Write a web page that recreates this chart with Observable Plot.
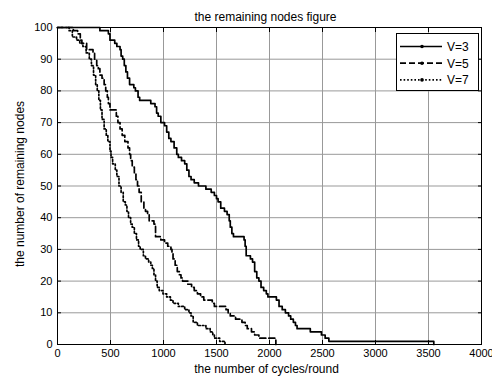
<!DOCTYPE html>
<html>
<head>
<meta charset="utf-8">
<script src="https://cdn.jsdelivr.net/npm/d3@7"></script>
<script src="https://cdn.jsdelivr.net/npm/@observablehq/plot@0.6"></script>
<style>
  html, body { margin: 0; padding: 0; background: #fff; }
  #chart { position: relative; width: 492px; height: 381px; font-family: "Liberation Sans", Arial, sans-serif; }
  #legend { position: absolute; left: 0; top: 0; }
</style>
</head>
<body>
<div id="chart"></div>
<script>
// Remaining alive nodes versus simulation round, for three values of V.
// Each series is a list of [round, nodes] change points, drawn as a staircase.
const v3 = [[0,100],[400,99],[480,98],[495,96],[540,95],[560,94],[590,93],[600,91],[615,90],[630,88],[645,86],[660,84],[680,82],[720,81],[735,80],[760,78],[775,77],[880,76],[920,75],[935,73],[950,72],[975,70],[1010,69],[1030,67],[1050,65],[1070,64],[1100,62],[1125,60],[1140,59],[1170,58],[1200,57],[1220,55],[1240,53],[1260,52],[1290,51],[1330,50],[1400,49],[1450,48],[1480,47],[1500,46],[1515,45],[1540,43],[1575,42],[1600,41],[1620,39],[1630,37],[1645,35],[1660,34],[1760,33],[1770,31],[1780,28],[1820,27],[1840,26],[1860,23],[1880,21],[1900,20],[1920,18],[1945,17],[1970,16],[1985,15],[2065,14],[2090,12],[2120,11],[2150,10],[2180,9],[2200,8],[2225,7],[2245,6],[2260,5],[2385,4],[2490,3],[2525,2],[2560,1],[3550,0]];
const v5 = [[0,100],[150,99],[190,98],[215,96],[230,95],[275,93],[335,92],[350,90],[370,88],[385,87],[400,85],[420,84],[440,82],[455,80],[470,78],[480,76],[495,74],[555,72],[570,70],[590,68],[610,66],[635,64],[665,62],[680,60],[690,58],[705,56],[725,54],[740,52],[755,50],[770,48],[790,45],[815,43],[830,42],[850,41],[865,39],[910,38],[925,34],[975,33],[1010,32],[1040,31],[1070,30],[1080,29],[1090,27],[1110,25],[1130,23],[1150,22],[1165,21],[1180,20],[1230,19],[1265,18],[1290,17],[1320,16],[1350,15],[1380,14],[1460,13],[1480,12],[1590,11],[1610,10],[1630,9],[1680,8],[1740,7],[1770,6],[1790,5],[1830,4],[1860,3],[1900,2],[2060,0]];
const v7 = [[0,100],[110,99],[140,97],[180,96],[210,95],[240,94],[270,92],[300,90],[320,88],[340,85],[360,82],[375,80],[390,77],[405,74],[420,71],[440,68],[460,66],[475,64],[495,61],[505,59],[520,57],[545,55],[560,53],[580,50],[600,48],[620,45],[640,44],[655,42],[670,40],[690,38],[705,37],[725,35],[745,33],[765,31],[780,30],[810,28],[830,27],[860,26],[880,25],[895,24],[910,22],[925,20],[940,18],[960,17],[995,16],[1030,15],[1065,14],[1090,13],[1140,12],[1200,11],[1240,10],[1260,9],[1280,7],[1320,6],[1400,5],[1440,4],[1465,3],[1480,2],[1530,1],[1580,0]];

const seriesNames = ["V=3", "V=5", "V=7"];
const seriesDash = [null, "6,3", "1.6,2"];
const xTicks = [0, 500, 1000, 1500, 2000, 2500, 3000, 3500, 4000];
const yTicks = [0, 10, 20, 30, 40, 50, 60, 70, 80, 90, 100];

const W = 492, H = 381;
const mL = 57, mR = 11, mT = 27, mB = 37;

const lineOpts = (dash) => ({
  x: d => d[0], y: d => d[1], curve: "step-after",
  stroke: "black", strokeWidth: 1.7, strokeDasharray: dash
});

const plain = d => String(d);

const plot = Plot.plot({
  width: W, height: H,
  marginLeft: mL, marginRight: mR, marginTop: mT, marginBottom: mB,
  style: { fontFamily: "Liberation Sans, Arial, sans-serif", fontSize: "11px", background: "white", color: "black", overflow: "visible" },
  x: { domain: [0, 4000] },
  y: { domain: [0, 100] },
  marks: [
    Plot.gridX(xTicks, { stroke: "#999", strokeOpacity: 1, strokeWidth: 1 }),
    Plot.gridY(yTicks, { stroke: "#999", strokeOpacity: 1, strokeWidth: 1 }),
    Plot.axisX(xTicks, { anchor: "bottom", tickSize: -4, tickPadding: 9, tickFormat: plain, fontSize: 11, label: null }),
    Plot.axisX(xTicks, { anchor: "top", tickSize: -4, tickFormat: () => "", label: null }),
    Plot.axisY(yTicks, { anchor: "left", tickSize: -4, tickPadding: 9, tickFormat: plain, fontSize: 11, label: null }),
    Plot.axisY(yTicks, { anchor: "right", tickSize: -4, tickFormat: () => "", label: null }),
    Plot.line(v7, lineOpts(seriesDash[2])),
    Plot.line(v5, lineOpts(seriesDash[1])),
    Plot.line(v3, lineOpts(seriesDash[0])),
    Plot.frame({ stroke: "black", strokeWidth: 1 }),
    Plot.text(["the remaining nodes figure"], { frameAnchor: "top", dx: -4, dy: -15, fontSize: 12 }),
    Plot.text(["the number of cycles/round"], { frameAnchor: "bottom", dx: -3, dy: 28, fontSize: 12 }),
    Plot.text(["the number of remaining nodes"], { frameAnchor: "left", textAnchor: "middle", dx: -37, dy: -2, rotate: -90, fontSize: 12 })
  ]
});

const chart = document.getElementById("chart");
chart.appendChild(plot);

// Legend box in the upper-right corner of the plot area
const xScale = plot.scale("x"), yScale = plot.scale("y");
const frameRight = xScale.apply(4000), frameTop = yScale.apply(100);
const boxW = 82, boxH = 57, boxX = frameRight - boxW - 3, boxY = frameTop + 6;
const legend = d3.select(chart).append("svg")
  .attr("id", "legend").attr("width", W).attr("height", H)
  .style("pointer-events", "none");
legend.append("rect")
  .attr("x", boxX + 0.5).attr("y", boxY + 0.5).attr("width", boxW).attr("height", boxH)
  .attr("fill", "white").attr("stroke", "black").attr("stroke-width", 1);
seriesNames.forEach((name, i) => {
  const ry = boxY + 13.5 + i * 16.7;
  const g = legend.append("g");
  g.append("line")
    .attr("x1", boxX + 4).attr("x2", boxX + 46).attr("y1", ry).attr("y2", ry)
    .attr("stroke", "black").attr("stroke-width", 1.7)
    .attr("stroke-dasharray", seriesDash[i]);
  g.append("circle").attr("cx", boxX + 26).attr("cy", ry).attr("r", 1.8).attr("fill", "black");
  g.append("text").attr("x", boxX + 51).attr("y", ry).attr("dy", "0.36em")
    .attr("font-family", "Liberation Sans, Arial, sans-serif").attr("font-size", 12)
    .text(name);
});
</script>
</body>
</html>
